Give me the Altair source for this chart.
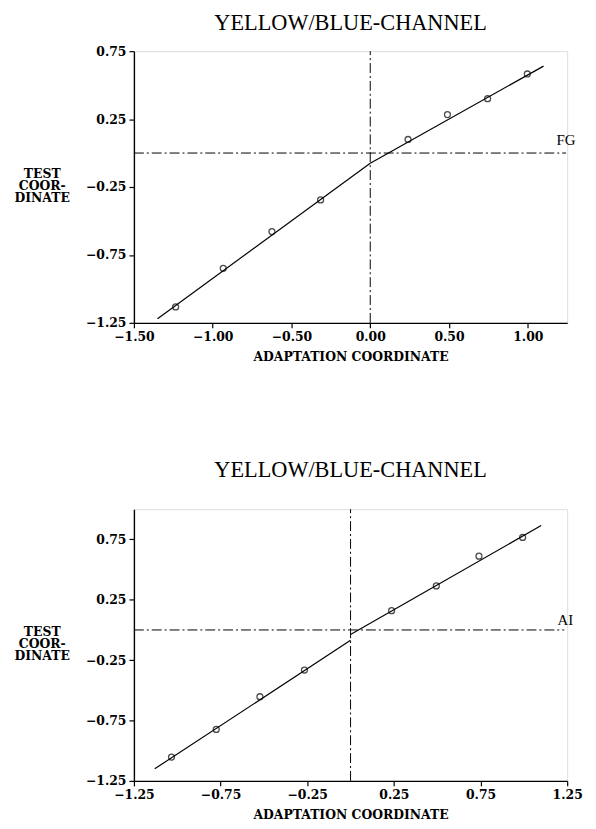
import altair as alt
import pandas as pd

# ---- data ----
title_text = "YELLOW/BLUE-CHANNEL"

# top panel (FG)
fg_x = [-1.235, -0.933, -0.624, -0.315, 0.240, 0.490, 0.745, 0.997]
fg_y = [-1.133, -0.849, -0.578, -0.345, 0.100, 0.283, 0.400, 0.582]
fg_line_x = [-1.35, 0.0, 0.0, 1.10]
fg_line_y = [-1.22, -0.075, -0.075, 0.64]
fg_line_seg = [0, 0, 1, 1]
fg_xticks = [-1.5, -1.0, -0.5, 0.0, 0.5, 1.0]
fg_yticks = [-1.25, -0.75, -0.25, 0.25, 0.75]
fg_xdom = [-1.5, 1.25]
fg_ydom = [-1.25, 0.75]

# bottom panel (AI)
ai_x = [-1.033, -0.775, -0.523, -0.266, 0.237, 0.495, 0.741, 0.993]
ai_y = [-1.053, -0.824, -0.553, -0.332, 0.160, 0.365, 0.611, 0.766]
ai_line_x = [-1.13, 0.0, 0.0, 1.10]
ai_line_y = [-1.15, -0.086, -0.037, 0.865]
ai_line_seg = [0, 0, 1, 1]
ai_xticks = [-1.25, -0.75, -0.25, 0.25, 0.75, 1.25]
ai_yticks = [-1.25, -0.75, -0.25, 0.25, 0.75]
ai_xdom = [-1.25, 1.25]
ai_ydom = [-1.25, 1.0]

TFONT = "Liberation Serif"
FONT = "DejaVu Serif"
DASH = [10, 3, 2, 3]


def panel(px, py, lx, ly, lseg, xticks, yticks, xdom, ydom, label, label_x, label_y,
          hrule_end, title_offset, ytitle_y):
    pts = pd.DataFrame({"x": px, "y": py})
    ln = pd.DataFrame({"x": lx, "y": ly, "seg": lseg})
    hr = pd.DataFrame({"x": [xdom[0]], "x2": [hrule_end], "y": [0.0]})
    vr = pd.DataFrame({"x": [0.0], "y": [ydom[0]], "y2": [ydom[1]]})
    lab = pd.DataFrame({"x": [label_x], "y": [label_y], "t": [label]})

    xs = alt.Scale(domain=xdom, nice=False, zero=False)
    ys = alt.Scale(domain=ydom, nice=False, zero=False)
    xax = alt.Axis(values=xticks, format=".2f", title="ADAPTATION COORDINATE",
                   grid=False, tickSize=5, labelPadding=3, titlePadding=7,
                   domainWidth=1.4, tickWidth=1.2,
                   labelFont=FONT, labelFontSize=12.5, labelFontWeight="bold",
                   titleFont=FONT, titleFontSize=12.5, titleFontWeight="bold",
                   domainColor="black", tickColor="black", labelColor="black",
                   titleColor="black", labelFlush=False)
    yax = alt.Axis(values=yticks, format=".2f", title=["TEST", "COOR-", "DINATE"],
                   grid=False, tickSize=5, labelPadding=3,
                   domainWidth=1.4, tickWidth=1.2,
                   labelFont=FONT, labelFontSize=12.5, labelFontWeight="bold",
                   titleFont=FONT, titleFontSize=12.5, titleFontWeight="bold",
                   titleAngle=0, titleAlign="center", titleBaseline="middle",
                   titleX=-93, titleY=ytitle_y, titleLineHeight=12.5,
                   domainColor="black", tickColor="black", labelColor="black",
                   titleColor="black", labelFlush=False)

    base_x = alt.X("x:Q", scale=xs, axis=xax)
    base_y = alt.Y("y:Q", scale=ys, axis=yax)

    points = alt.Chart(pts).mark_point(shape="circle", filled=False, size=36,
                                       color="black", strokeWidth=1.3).encode(
        x=base_x, y=base_y)
    lines = alt.Chart(ln).mark_line(color="black", strokeWidth=1.2).encode(
        x="x:Q", y="y:Q", detail="seg:N")
    hrule = alt.Chart(hr).mark_rule(color="black", strokeWidth=1, strokeDash=DASH).encode(
        x="x:Q", x2="x2:Q", y="y:Q")
    vrule = alt.Chart(vr).mark_rule(color="black", strokeWidth=1, strokeDash=DASH).encode(
        x="x:Q", y="y:Q", y2="y2:Q")
    text = alt.Chart(lab).mark_text(font=TFONT, fontSize=15, color="black",
                                    align="center", baseline="middle").encode(
        x="x:Q", y="y:Q", text="t:N")

    return alt.layer(points, lines, hrule, vrule, text).properties(
        width=437, height=274,
        title=alt.TitleParams(title_text, font=TFONT, fontSize=22.5, fontWeight="normal",
                              color="black", offset=title_offset, anchor="middle"))


top = panel(fg_x, fg_y, fg_line_x, fg_line_y, fg_line_seg, fg_xticks, fg_yticks,
            fg_xdom, fg_ydom, "FG", 1.243, 0.093, 1.243, 11, 123)
bottom = panel(ai_x, ai_y, ai_line_x, ai_line_y, ai_line_seg, ai_xticks, ai_yticks,
               ai_xdom, ai_ydom, "AI", 1.239, 0.086, 1.233, 27, 123)

chart = alt.vconcat(top, bottom, spacing=96).properties(
    padding={"left": 5, "top": 0, "right": 5, "bottom": 5}
).configure_view(stroke=None).configure(background="white")

chart.save("out.html", embed_options={"renderer": "svg", "actions": False})
